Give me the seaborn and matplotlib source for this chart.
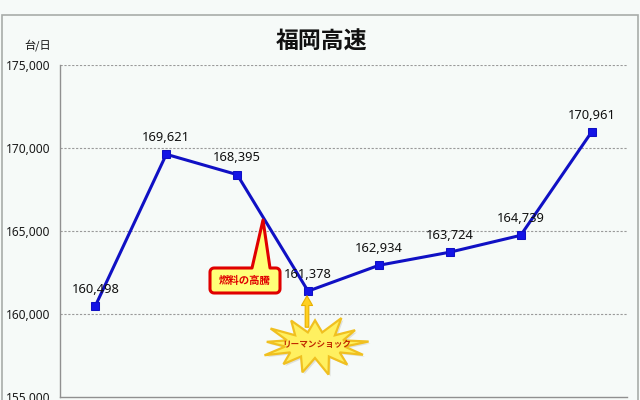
import numpy as np
import pandas as pd
import matplotlib
matplotlib.use("Agg")
import matplotlib.pyplot as plt
import seaborn as sns
from matplotlib.patches import Polygon, FancyArrowPatch, Rectangle
from matplotlib.transforms import IdentityTransform
from matplotlib.ticker import FuncFormatter

# ---- data ----
positions = [0, 1, 2, 3, 4, 5, 6, 7]
traffic = [160498, 169621, 168395, 161378, 162934, 163724, 164739, 170961]
y_ticks = [155000, 160000, 165000, 170000, 175000]
title = "福岡高速"
unit_label = "台/日"
note_fuel = "燃料の高騰"
note_lehman = "リーマンショック"

df = pd.DataFrame({"pos": positions, "traffic": traffic})

sns.set_style("white")
plt.rcParams["font.family"] = ["Noto Sans", "Noto Sans CJK JP", "DejaVu Sans"]

BG = "#f6faf8"
W, H = 640, 400
fig = plt.figure(figsize=(6.4, 4.0), dpi=100)
fig.patch.set_facecolor(BG)

def px(x, y):
    return (x, H - y)

# outer chart border
fig.add_artist(Rectangle(px(2, 403), 636, 388, transform=IdentityTransform(),
                         fill=False, ec="#a8aca9", lw=1.2))

ax = fig.add_axes([60 / W, (H - 397) / H, (627 - 60) / W, (397 - 65) / H])
ax.set_facecolor(BG)

sns.lineplot(data=df, x="pos", y="traffic", ax=ax, color="#1010c4", lw=2.2,
             marker="s", markersize=5.5, markerfacecolor="#1414e6",
             markeredgecolor="#1010c4", zorder=5)

ax.set_xlim(-0.5, 7.5)
ax.set_ylim(155000, 175000)
ax.set_yticks(y_ticks)
ax.yaxis.set_major_formatter(FuncFormatter(lambda v, p: f"{int(v):,}"))
ax.set_xticks(np.arange(-0.5, 8.0, 1.0))
ax.set_xticklabels([])
ax.set_xlabel("")
ax.set_ylabel("")
ax.tick_params(axis="x", direction="out", length=5, color="#909090")
ax.tick_params(axis="y", direction="out", length=4, color="#909090",
               labelsize=8.6, labelcolor="#1a1a1a", pad=3)
for s in ["top", "right"]:
    ax.spines[s].set_visible(False)
for s in ["left", "bottom"]:
    ax.spines[s].set_color("#909090")
    ax.spines[s].set_linewidth(1.0)

for yv in y_ticks[1:]:
    ax.axhline(yv, color="#9a9a9a", lw=0.8, ls=(0, (2, 1.5)), zorder=1)

for x, v in zip(positions, traffic):
    ax.annotate(f"{v:,}", (x, v), xytext=(0, 12), textcoords="offset points",
                ha="center", va="center", fontsize=9.3, color="#111111", zorder=6)

fig.text(321 / W, 1 - 42 / H, title, ha="center", va="center", fontsize=16.5,
         fontweight="bold", family=["Noto Sans CJK JP"], color="#111111")
fig.text(38 / W, 1 - 45 / H, unit_label, ha="center", va="center", fontsize=8,
         family=["Noto Sans CJK JP"], color="#111111")

# ---- fuel callout ----
bx0, bx1, by0, by1 = 210, 280, 268, 293
r = 4
pts = []
def arc(cx, cy, a0, a1):
    for a in np.linspace(np.radians(a0), np.radians(a1), 6):
        pts.append(px(cx + r * np.cos(a), cy - r * np.sin(a)))
arc(bx0 + r, by0 + r, 180, 90)
pts.append(px(252, by0))
pts.append(px(263, 220))
pts.append(px(270, by0))
arc(bx1 - r, by0 + r, 90, 0)
arc(bx1 - r, by1 - r, 0, -90)
arc(bx0 + r, by1 - r, -90, -180)
fig.add_artist(Polygon(pts, closed=True, transform=IdentityTransform(),
                       fc="#ffff78", ec="#e00000", lw=2.2, joinstyle="round", zorder=7))
fig.text(245 / W, 1 - 281 / H, note_fuel, ha="center", va="center", fontsize=7.5,
         fontweight="bold", family=["Noto Sans CJK JP"], color="#e00000", zorder=8)

# ---- Lehman starburst ----
fig.add_artist(FancyArrowPatch(px(307, 330), px(307, 293), transform=IdentityTransform(),
                               arrowstyle="simple,head_length=7,head_width=8,tail_width=2.6",
                               fc="#ffd020", ec="#e8b000", lw=0.8, zorder=7))
cx, cy = 315, 345
n = 13
ang = np.linspace(0, 2 * np.pi, 2 * n, endpoint=False) + 0.12
outer_r = np.array([1.0, 0.9, 1.05, 0.85, 0.95, 1.0, 0.9, 1.0, 0.88, 0.97, 1.05, 0.9, 0.95])
star = []
for k, a in enumerate(ang):
    if k % 2 == 0:
        s = outer_r[k // 2]
        rx, ry = 54 * s, 29 * s
    else:
        rx, ry = 30, 13
    star.append(px(cx + rx * np.cos(a), cy - ry * np.sin(a)))
shadow = [(x + 2, y - 2) for x, y in star]
fig.add_artist(Polygon(shadow, closed=True, transform=IdentityTransform(),
                       fc="#d0d0c8", ec="none", alpha=0.6, zorder=7))
fig.add_artist(Polygon(star, closed=True, transform=IdentityTransform(),
                       fc="#fff060", ec="#f0c020", lw=1.6, joinstyle="miter", zorder=8))
fig.text(317 / W, 1 - 345 / H, note_lehman, ha="center", va="center", fontsize=6.2,
         fontweight="bold", family=["Noto Sans CJK JP"], color="#c02800", zorder=9)

fig.savefig("out.png", dpi=100, facecolor=BG)
